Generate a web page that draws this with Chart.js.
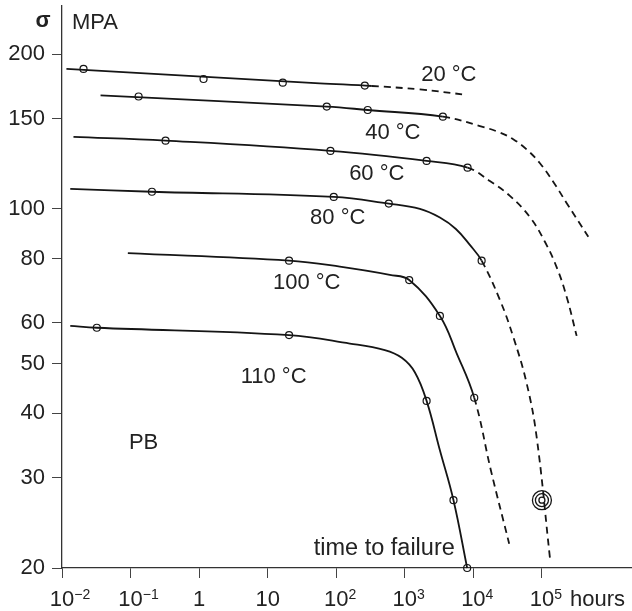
<!DOCTYPE html>
<html lang="en">
<head>
<meta charset="UTF-8" />
<title>PB | Time to failure</title>
<script src="https://cdn.jsdelivr.net/npm/chart.js"></script>
<style>
  * { margin: 0; padding: 0; box-sizing: border-box; }
  body { background: #fff; }
  #wrap { width: 632px; height: 611px; }
</style>
</head>
<body>
<div id="wrap"><canvas id="chart" width="632" height="611"></canvas></div>
<script>
// axis ticks
const xTicks = [1e-2, 1e-1, 1, 10, 1e2, 1e3, 1e4, 1e5];
const xBase = ['10', '10', '1', '10', '10', '10', '10', '10'];
const xSup = ['\u22122', '\u22121', '', '', '2', '3', '4', '5'];
const yTicks = [20, 30, 40, 50, 60, 80, 100, 150, 200];

// 20 °C  (hours, MPa) - measured part, then extrapolation
const t20 = [0.0116, 57.4, 330];
const s20 = [187.3, 175.6, 173.5];
const t20Ext = [1660, 8040];
const s20Ext = [170.8, 166.7];
const t20Pts = [0.0206, 1.16, 16.6, 261];
const s20Pts = [187.3, 179.0, 176.1, 173.8];

// 40 °C
const t40 = [0.0365, 72.7, 288, 3590];
const s40 = [166.3, 158.2, 155.8, 151.2];
const t40Ext = [12450, 24400, 38100, 59800, 93600, 146000, 230000, 475000];
const s40Ext = [145.0, 140.8, 136.7, 130.6, 122.7, 113.0, 102.6, 88.3];
const t40Pts = [0.131, 72.7, 288, 3590];
const s40Pts = [165.5, 158.2, 155.8, 151.2];

// 60 °C
const t60 = [0.0147, 0.324, 82.3, 2080, 8230];
const s60 = [138.1, 135.8, 129.7, 124.0, 120.3];
const t60Ext = [17400, 34100, 66800, 111000, 166000, 232000, 321000];
const s60Ext = [113.3, 106.0, 96.4, 86.2, 76.7, 67.1, 56.6];
const t60Pts = [0.324, 82.3, 2080, 8230];
const s60Pts = [135.8, 129.7, 124.0, 120.3];

// 80 °C
const t80 = [0.0132, 0.205, 92, 584, 1660, 3250, 5560, 8890, 13200];
const s80 = [109.4, 108.0, 105.5, 102.4, 100.0, 96.2, 91.4, 85.1, 79.3];
const t80Ext = [24400, 38100, 59800, 83700, 131000];
const s80Ext = [66.5, 56.4, 45.8, 36.0, 20.9];
const t80Pts = [0.205, 92, 584, 13200];
const s80Pts = [108.0, 105.5, 102.4, 79.3];

// 100 °C
const t100 = [0.0913, 20.5, 113, 604, 1160, 3250, 5690, 10300];
const s100 = [82.0, 79.3, 77.2, 74.4, 72.7, 61.9, 52.4, 42.9];
const t100Ext = [18000, 33300];
const s100Ext = [31.0, 22.3];
const t100Pts = [20.5, 1160, 3250, 10300];
const s100Pts = [79.3, 72.7, 61.9, 42.9];

// 110 °C
const t110 = [0.0132, 0.0322, 20.5, 158, 511, 904, 1400, 2080, 3250, 5130, 8120];
const s110 = [59.2, 58.7, 56.8, 54.7, 53.1, 51.3, 48.1, 42.3, 33.9, 27.1, 20];
const t110Ext = [];
const s110Ext = [];
const t110Pts = [0.0322, 20.5, 2080, 5130, 8120];
const s110Pts = [58.7, 56.8, 42.3, 27.1, 20];

// long-term point (concentric rings)
const tRing = [100000];
const sRing = [27.1];

// text labels placed in data coordinates
const labelText = ['20 \u00B0C', '40 \u00B0C', '60 \u00B0C', '80 \u00B0C', '100 \u00B0C', '110 \u00B0C', 'PB', 'time to failure'];
const labelT = [4390, 668, 390, 105, 37.1, 12.2, 0.155, 502];
const labelS = [182.3, 140.6, 117.0, 96.0, 71.8, 47.1, 35.0, 21.8];

const FONT = "'Liberation Sans', Arial, sans-serif";
const ink = '#151515';

function pairs(t, s) {
  return t.map((v, i) => ({ x: v, y: s[i] }));
}

// one continuous curve: solid over the measured part, dashed beyond it
function curve(t, s, tExt, sExt) {
  const split = t.length - 1;
  return {
    data: pairs(t.concat(tExt), s.concat(sExt)),
    borderColor: ink,
    borderWidth: 1.8,
    pointRadius: 0,
    tension: 0.4,
    fill: false,
    clip: false,
    segment: {
      borderDash: ctx => (ctx.p0DataIndex >= split ? [7, 5] : undefined)
    }
  };
}

function marks(t, s, r, w) {
  return {
    data: pairs(t, s),
    showLine: false,
    pointStyle: 'circle',
    pointRadius: r,
    pointBorderWidth: w || 1.2,
    pointBorderColor: ink,
    pointBackgroundColor: 'rgba(0,0,0,0)',
    clip: false
  };
}

const textPlugin = {
  id: 'texts',
  afterDraw(chart) {
    const { ctx, chartArea } = chart;
    const x = chart.scales.x, y = chart.scales.y;
    ctx.save();
    ctx.fillStyle = '#222';
    ctx.textAlign = 'center';
    ctx.textBaseline = 'middle';
    labelText.forEach((txt, i) => {
      ctx.font = (txt.length > 8 ? '23.5px ' : '22px ') + FONT;
      ctx.fillText(txt, x.getPixelForValue(labelT[i]), y.getPixelForValue(labelS[i]));
    });

    // x tick labels with exponents
    ctx.textBaseline = 'alphabetic';
    xTicks.forEach((v, i) => {
      const px = x.getPixelForValue(v);
      ctx.font = '22px ' + FONT;
      ctx.textAlign = 'center';
      ctx.fillText(xBase[i], px, chartArea.bottom + 38);
      if (xSup[i]) {
        const w = ctx.measureText(xBase[i]).width;
        ctx.font = '14px ' + FONT;
        ctx.textAlign = 'left';
        ctx.fillText(xSup[i], px + w / 2, chartArea.bottom + 31);
      }
    });

    // axis captions
    ctx.font = '22px ' + FONT;
    ctx.textAlign = 'left';
    ctx.fillText('hours', x.getPixelForValue(1e5) + 28, chartArea.bottom + 38);
    ctx.textBaseline = 'middle';
    ctx.fillText('MPA', chartArea.left + 10, chartArea.top + 17);
    ctx.font = 'bold 22px ' + FONT;
    ctx.textAlign = 'center';
    ctx.fillText('\u03C3', chartArea.left - 19, chartArea.top + 15);
    ctx.restore();
  }
};

new Chart(document.getElementById('chart'), {
  type: 'line',
  data: {
    datasets: [
      curve(t20, s20, t20Ext, s20Ext), marks(t20Pts, s20Pts, 3.5),
      curve(t40, s40, t40Ext, s40Ext), marks(t40Pts, s40Pts, 3.5),
      curve(t60, s60, t60Ext, s60Ext), marks(t60Pts, s60Pts, 3.5),
      curve(t80, s80, t80Ext, s80Ext), marks(t80Pts, s80Pts, 3.5),
      curve(t100, s100, t100Ext, s100Ext), marks(t100Pts, s100Pts, 3.5),
      curve(t110, s110, t110Ext, s110Ext), marks(t110Pts, s110Pts, 3.5),
      marks(tRing, sRing, 9.5, 1.3), marks(tRing, sRing, 6.5, 1.3), marks(tRing, sRing, 3, 1.3)
    ]
  },
  options: {
    responsive: false,
    devicePixelRatio: 1,
    animation: false,
    layout: { autoPadding: false, padding: { top: 6, right: 0, bottom: 0, left: 0 } },
    plugins: { legend: { display: false }, tooltip: { enabled: false } },
    scales: {
      x: {
        type: 'logarithmic',
        min: 0.01,
        max: 2.06e6,
        border: { display: true, color: '#333', width: 1.3 },
        grid: { drawOnChartArea: false, drawTicks: true, tickLength: 10, color: '#444', lineWidth: 1 },
        ticks: { display: false },
        afterBuildTicks: scale => { scale.ticks = xTicks.map(v => ({ value: v })); },
        afterFit: scale => { scale.height = 43; scale.paddingLeft = 0; scale.paddingRight = 0; }
      },
      y: {
        type: 'logarithmic',
        min: 20,
        max: 248.3,
        border: { display: true, color: '#333', width: 1.3 },
        grid: { drawOnChartArea: false, drawTicks: true, tickLength: 10, color: '#444', lineWidth: 1 },
        ticks: {
          color: '#222',
          padding: 7,
          font: { family: FONT, size: 22 },
          callback: v => String(v)
        },
        afterBuildTicks: scale => { scale.ticks = yTicks.map(v => ({ value: v })); },
        afterFit: scale => { scale.width = 62; scale.paddingTop = 0; scale.paddingBottom = 0; }
      }
    }
  },
  plugins: [textPlugin]
});
</script>
</body>
</html>
